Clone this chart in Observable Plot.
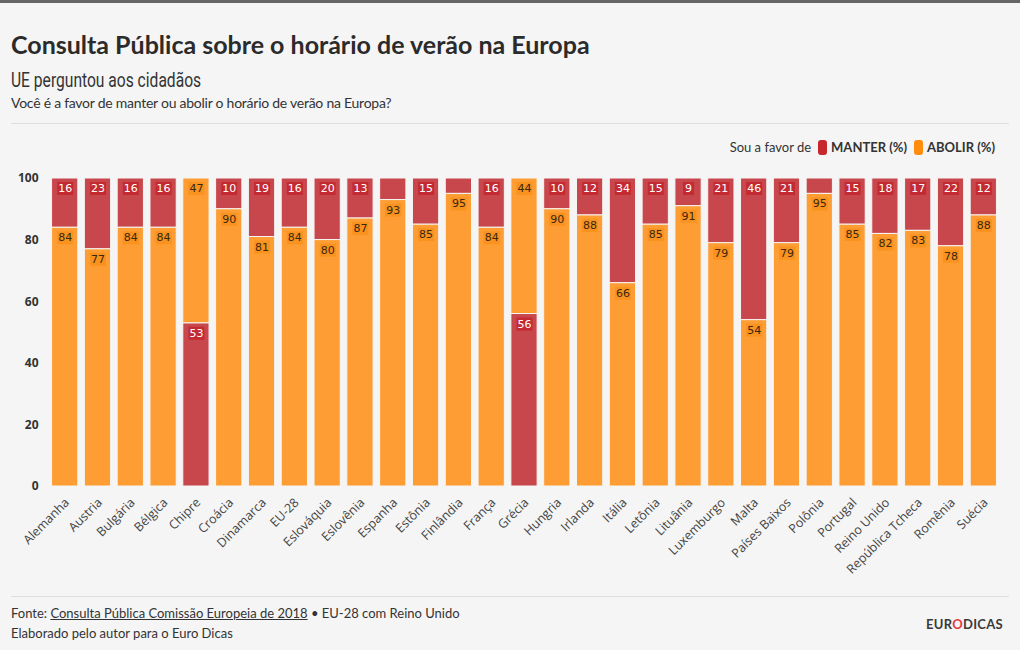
<!DOCTYPE html>
<html><head><meta charset="utf-8">
<script src="https://cdn.jsdelivr.net/npm/d3@7"></script>
<script src="https://cdn.jsdelivr.net/npm/@observablehq/plot@0.6"></script>
<style>
html,body{margin:0;padding:0}
body{background:#f5f5f5;width:1020px;height:650px;position:relative;overflow:hidden;font-family:Lato,sans-serif;color:#333}
#topbar{position:absolute;left:0;top:0;width:1020px;height:3px;background:#666}
#title{position:absolute;left:11px;top:28px;font-size:25px;font-weight:bold;color:#2b2b2b;line-height:32px;white-space:nowrap}
#subtitle{position:absolute;left:11px;top:67px;font-size:20px;font-weight:normal;font-family:Roboto,sans-serif;color:#333;line-height:26px;white-space:nowrap;transform:scaleX(0.78);transform-origin:0 0}
#question{position:absolute;left:11px;top:93px;font-size:14px;letter-spacing:-0.25px;color:#333;line-height:20px;white-space:nowrap}
.sep{position:absolute;left:11px;width:998px;height:1px;background:#ddd}
#legend{position:absolute;right:25px;top:138px;font-size:13px;line-height:18px;color:#333;white-space:nowrap}
#legend .sw{display:inline-block;width:9px;height:15px;border-radius:3px;vertical-align:-3px;margin:0 4px 0 7px}
#legend b{font-weight:bold}
#chart{position:absolute;left:0;top:160px}
#caption{position:absolute;left:11px;top:603px;font-size:13px;line-height:20px;color:#333;white-space:nowrap}
#caption u{text-decoration:underline}
#logo{position:absolute;right:17px;top:616px;font-size:13px;font-weight:bold;letter-spacing:0.3px;color:#3a3a3a}
#logo span{color:#e23b3b}
</style></head><body>
<div id="topbar"></div>
<div id="title">Consulta Pública sobre o horário de verão na Europa</div>
<div id="subtitle">UE perguntou aos cidadãos</div>
<div id="question">Você é a favor de manter ou abolir o horário de verão na Europa?</div>
<div class="sep" style="top:123px"></div>
<div id="legend">Sou a favor de<span class="sw" style="background:#c8262d"></span><b>MANTER (%)</b><span class="sw" style="background:#ff8c0a"></span><b>ABOLIR (%)</b></div>
<div id="chart"></div>
<div class="sep" style="top:596px"></div>
<div id="caption">Fonte: <u>Consulta Pública Comissão Europeia de 2018</u> • EU-28 com Reino Unido<br>Elaborado pelo autor para o Euro Dicas</div>
<div id="logo">EUR<span>O</span>DICAS</div>
<script>
const paises = ["Alemanha","Austria","Bulgária","Bélgica","Chipre","Croácia","Dinamarca","EU-28","Eslováquia","Eslovênia","Espanha","Estônia","Finlândia","França","Grécia","Hungria","Irlanda","Itália","Letônia","Lituânia","Luxemburgo","Malta","Países Baixos","Polônia","Portugal","Reino Unido","República Tcheca","Romênia","Suécia"];
const manter = [16,23,16,16,53,10,19,16,20,13,7,15,5,16,56,10,12,34,15,9,21,46,21,5,15,18,17,22,12];
const abolir = [84,77,84,84,47,90,81,84,80,87,93,85,95,84,44,90,88,66,85,91,79,54,79,95,85,82,83,78,88];
const series = ["MANTER","ABOLIR"];
const coresBarra = ["#c8474c","#fd9d33"];
const coresCaixa = ["#c42a31","#f9921e"];
const coresTexto = ["#ffffff","#3a2810"];
const yTicks = [0,20,40,60,80,100];

const data = paises.flatMap((p,i) => [
  {pais:p, serie:series[0], valor:manter[i]},
  {pais:p, serie:series[1], valor:abolir[i]}
]);

const minLabel = 9;
const box2 = {draw(ctx){ ctx.rect(-8,-6.5,16,13); }};
const box1 = {draw(ctx){ ctx.rect(-5.5,-6.5,11,13); }};
const caixaFill = (nd) => d => (d.valor >= minLabel && String(d.valor).length === nd) ? coresCaixa[series.indexOf(d.serie)] : "none";

const stackOpts = {x:"pais", y:"valor", order:"value", reverse:true};

const chart = Plot.plot({
  width: 1020,
  height: 430,
  marginTop: 18,
  marginBottom: 104,
  marginLeft: 45,
  marginRight: 17,
  style: {background:"transparent", overflow:"visible"},
  x: {domain: paises, padding: 0.2, round: false, label: null},
  y: {domain: [0,100], label: null},
  color: {domain: series, range: coresBarra},
  marks: [
    Plot.barY(data, {...stackOpts, fill:"serie", stroke:"#f5f5f5", strokeWidth:1}),
    Plot.dot(data, Plot.stackY2({...stackOpts, dy:10, symbol: box2, fill: caixaFill(2)})),
    Plot.dot(data, Plot.stackY2({...stackOpts, dy:10, symbol: box1, fill: caixaFill(1)})),
    Plot.text(data, Plot.stackY2({...stackOpts, dy:10,
      text: d => d.valor >= minLabel ? String(d.valor) : "",
      fill: d => coresTexto[series.indexOf(d.serie)],
      fontSize: 11, fontFamily: "DejaVu Sans"})),
    Plot.axisX({tickRotate:-45, tickSize:0, tickPadding:14, dx:2, fontSize:12.5, fontFamily:"Open Sans", fill:"#444", label:null}),
    Plot.axisY({ticks:yTicks, tickSize:0, tickPadding:7, fontSize:12, fontWeight:"bold", fontFamily:"Open Sans", fill:"#333", label:null})
  ]
});
document.getElementById("chart").appendChild(chart);
</script>
</body></html>
